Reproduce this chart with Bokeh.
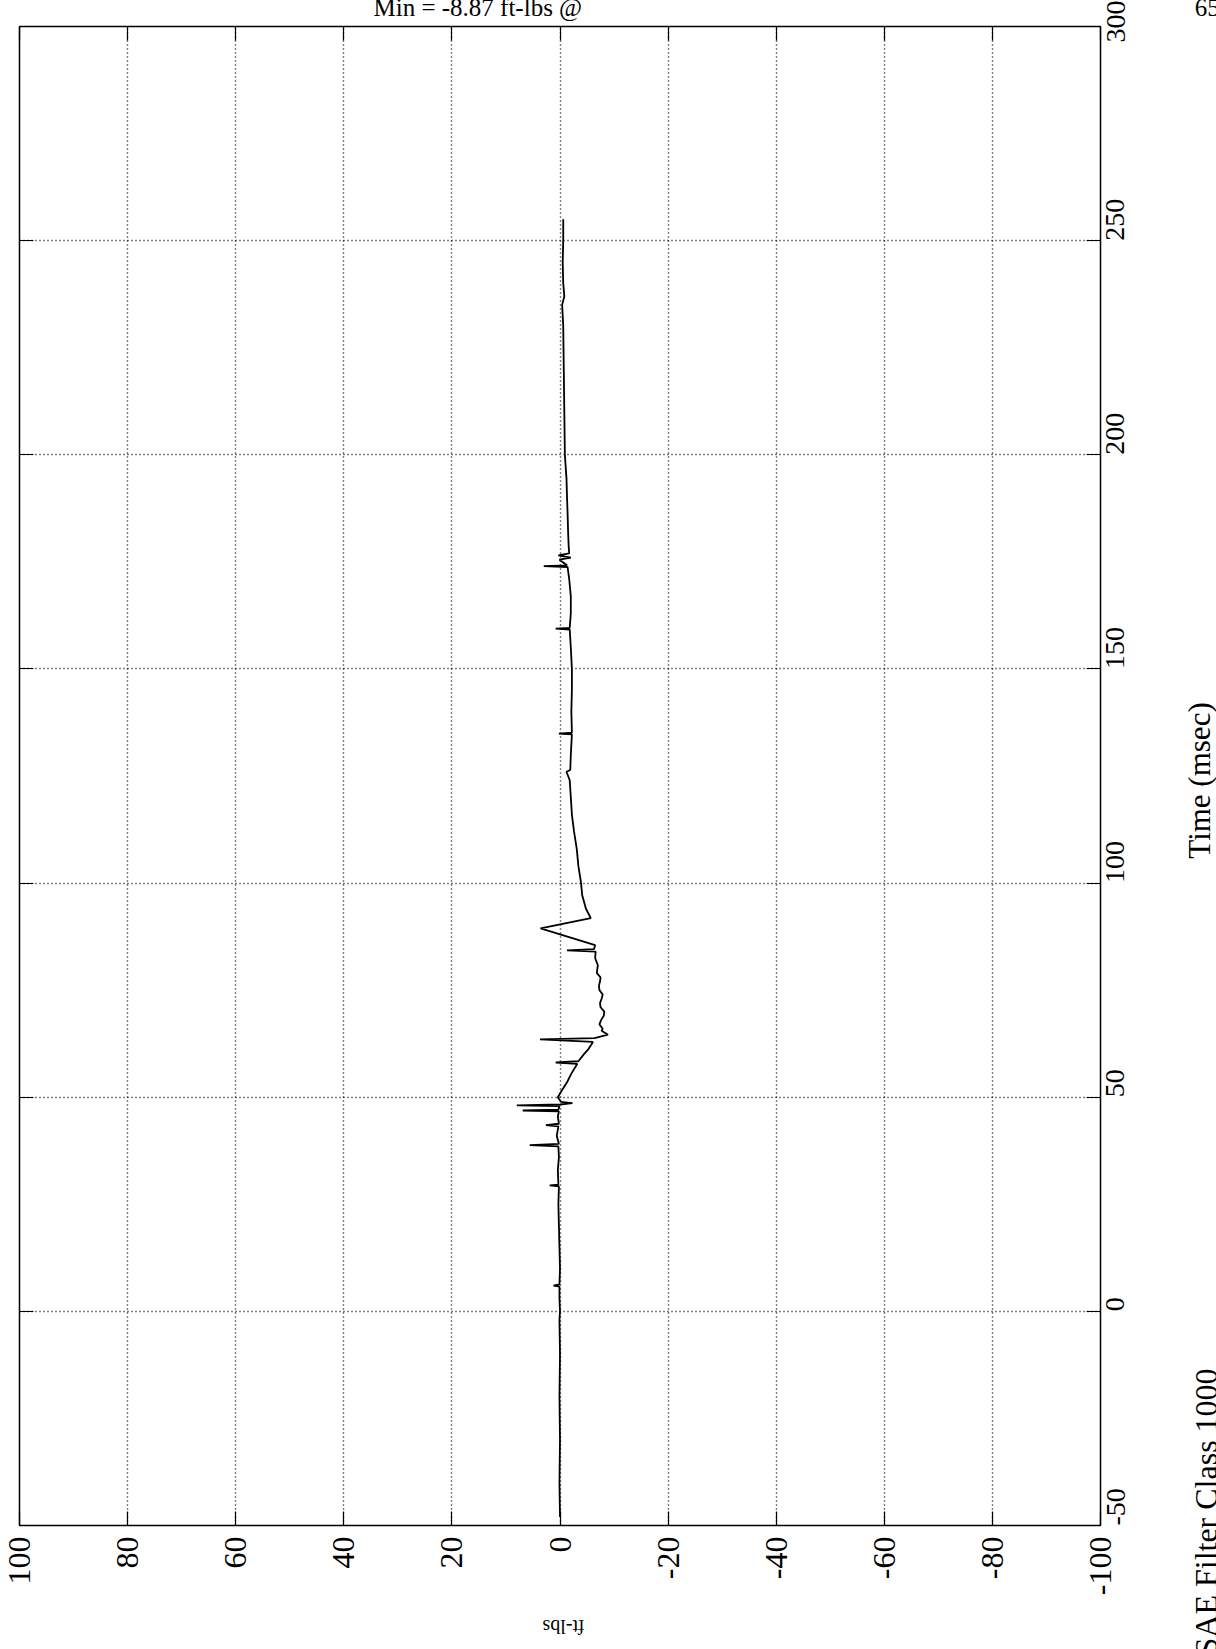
import math
from bokeh.plotting import figure
from bokeh.models import Range1d, LinearAxis, FixedTicker, Label, CustomJSTickFormatter
from bokeh.embed import file_html
from bokeh.resources import INLINE

# ---- data ----
time_ms = [-48, -40, -30, -20, -10, -2, 0, 3, 5.8, 6.0, 6.3, 10, 15, 20, 25,
           29.2, 29.4, 29.6, 33, 36, 38.5, 38.8, 39.1, 41, 43.2, 43.5, 43.8,
           45.5, 46.7, 46.9, 47.1, 47.9, 48.1, 48.3, 48.6, 48.9, 50, 51.5,
           53.5, 55.5, 57.8, 58.1, 58.4, 60, 61.3, 62.9, 63.5, 63.8, 64.6,
           65.5, 66, 67, 68, 69, 70, 71, 72, 73, 74, 75, 76, 77, 78, 79,
           80.8, 82.5, 84, 84.3, 84.6, 85.5, 89.4, 91.8, 94, 97.2, 100, 104,
           108, 112, 116, 120, 124, 126, 126.4, 130, 134.7, 134.9, 135.1, 140,
           145, 150, 155, 159.2, 159.4, 159.6, 163, 167, 171, 173.8, 174.0,
           174.2, 175.5, 176, 176.5, 177, 178.7, 182, 186.5, 190, 194.5, 200,
           210, 220, 230, 235, 237, 240, 245, 250, 255]
torque = [0.0, 0.1, 0.0, 0.1, 0.0, 0.1, 0.0, 0.1, 0.1, 1.2, 0.1, 0.0, 0.1, 0.2, 0.3,
          0.2, 1.9, 0.3, 0.4, 0.2, 0.3, 5.6, 0.2, 0.6, 0.3, 2.6, 0.2,
          0.4, 0.2, 6.9, 0.3, 0.1, 8.0, 0.0, -2.3, -0.2, 0.4, -0.3,
          -1.3, -2.1, -3.2, 0.8, -3.4, -4.4, -5.3, -6.1, 3.7, -6.4, -8.87,
          -7.7, -7.9, -7.3, -7.6, -8.1, -8.2, -7.5, -7.4, -7.7, -7.9, -7.3, -7.2, -7.4, -7.5, -6.8,
          -7.0, -6.5, -6.6, -1.3, -6.3, -6.5, 3.6, -5.7, -4.8, -4.1, -3.9, -3.4,
          -3.1, -2.6, -2.2, -2.0, -1.8, -1.2, -1.9, -2.0, -2.2, 0.2, -2.2, -2.1,
          -2.2, -2.2, -2.0, -1.8, 0.8, -1.8, -2.0, -2.0, -1.7, -1.4, 3.0,
          -1.3, 0.1, -2.0, 0.3, -1.7, -1.6, -1.5, -1.4, -1.3, -1.2, -0.9,
          -0.8, -0.7, -0.6, -0.4, -0.8, -0.6, -0.5, -0.6, -0.6]
torque_ticks = [100, 80, 60, 40, 20, 0, -20, -40, -60, -80, -100]
time_ticks = [-50, 0, 50, 100, 150, 200, 250, 300]

SERIF = "Liberation Serif"
NB = "\u00a0"
W, H = 1216, 1649

p = figure(width=W, height=H, output_backend="svg", toolbar_location=None,
           title=None,
           x_range=Range1d(100, -100), y_range=Range1d(-50, 300),
           x_axis_location="below", y_axis_location="right",
           min_border_left=19, min_border_top=26, min_border_right=116,
           min_border_bottom=124)
p.outline_line_color = "black"
p.outline_line_width = 1.5
p.background_fill_color = "white"
p.border_fill_color = "white"

p.line(torque, time_ms, color="black", line_width=1.8)

plain = CustomJSTickFormatter(code="return tick.toString()")

def style_axis(ax, ticks, size, standoff):
    ax.ticker = FixedTicker(ticks=ticks)
    ax.formatter = plain
    ax.major_label_orientation = math.pi / 2
    ax.major_label_text_font = SERIF
    ax.major_label_text_font_size = size
    ax.major_label_text_color = "black"
    ax.major_label_standoff = standoff
    ax.major_tick_in = 14
    ax.major_tick_out = 0
    ax.major_tick_line_color = "black"
    ax.major_tick_line_width = 1.2
    ax.minor_tick_line_color = None
    ax.axis_line_color = "black"

style_axis(p.xaxis[0], torque_ticks, "32px", 11)
style_axis(p.yaxis[0], time_ticks, "28px", 15)

blank = CustomJSTickFormatter(code="return ''")
top = LinearAxis(ticker=FixedTicker(ticks=torque_ticks), formatter=blank,
                 major_label_text_font_size="1px",
                 major_tick_in=14, major_tick_out=0, minor_tick_line_color=None,
                 major_label_standoff=0, axis_line_color=None, major_tick_line_width=1.2)
p.add_layout(top, "above")
left = LinearAxis(ticker=FixedTicker(ticks=time_ticks), formatter=blank,
                  major_label_text_font_size="1px",
                  major_tick_in=14, major_tick_out=0, minor_tick_line_color=None,
                  major_label_standoff=0, axis_line_color=None, major_tick_line_width=1.2)
p.add_layout(left, "left")

for g, t in ((p.xgrid[0], torque_ticks), (p.ygrid[0], time_ticks)):
    g.ticker = FixedTicker(ticks=t)
    g.grid_line_color = "black"
    g.grid_line_dash = "1 3"
    g.grid_line_width = 1.4

def lab(text, x, y, angle, size, align, side):
    p.add_layout(Label(x=x, y=y, x_units="canvas", y_units="canvas", text=text,
                       angle=angle, text_font=SERIF, text_font_size=size,
                       text_color="black", text_align=align, text_baseline="alphabetic"),
                 side)

lab("Time (msec)", 1199, 780, math.pi / 2, "31px", "center", "right")
lab("SAE Filter Class 1000", 1205, 1655, math.pi / 2, "32px", "left", "right")
lab("ft-lbs", 563, 1626, math.pi, "20px", "center", "below")
lab("Min =" + NB + "-8.87 ft-lbs @" + NB * 98 + "65", 373, 7, 0, "25px", "left", "below")

open("out.html", "w").write(file_html(p, INLINE))
